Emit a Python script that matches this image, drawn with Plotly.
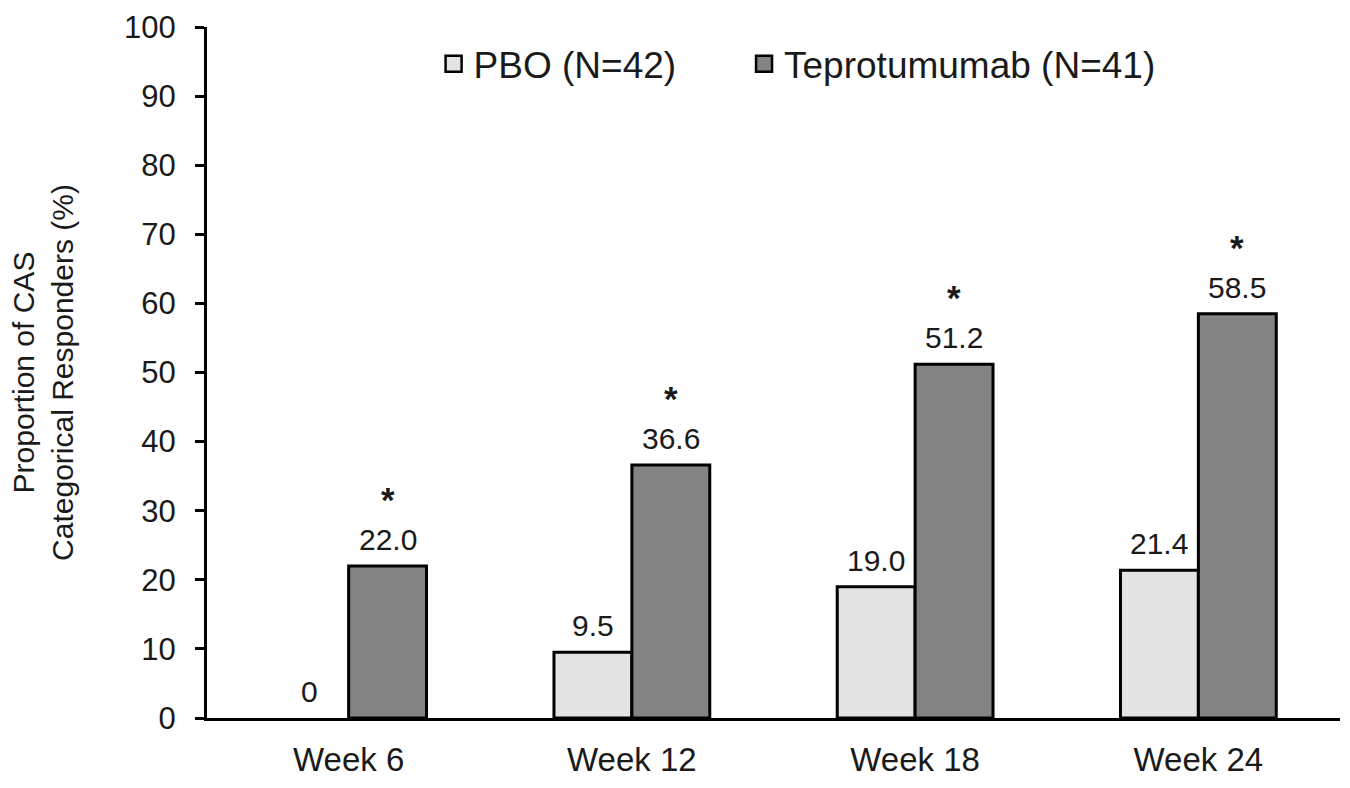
import plotly.graph_objects as go

categories = ["Week 6", "Week 12", "Week 18", "Week 24"]
pbo = [0, 9.5, 19.0, 21.4]
tep = [22.0, 36.6, 51.2, 58.5]
pbo_labels = ["0", "9.5", "19.0", "21.4"]
tep_labels = ["22.0", "36.6", "51.2", "58.5"]
significant = [True, True, True, True]
y_ticks = [0, 10, 20, 30, 40, 50, 60, 70, 80, 90, 100]

PBO_COLOR = "#e3e3e3"
TEP_COLOR = "#838383"
FONT = "Liberation Sans, Arial, sans-serif"
TXT = "#1a1a1a"

pbo_line_w = [0 if v == 0 else 3 for v in pbo]

fig = go.Figure()
fig.add_trace(go.Bar(x=categories, y=pbo, name="PBO (N=42)",
                     marker=dict(color=PBO_COLOR, line=dict(color="black", width=pbo_line_w)), showlegend=False))
fig.add_trace(go.Bar(x=categories, y=tep, name="Teprotumumab (N=41)",
                     marker=dict(color=TEP_COLOR, line=dict(color="black", width=3)), showlegend=False))

# legend entries
fig.add_trace(go.Scatter(x=[None], y=[None], mode="markers", name="PBO (N=42)", legend="legend",
                         marker=dict(symbol="square", size=18, color=PBO_COLOR, line=dict(color="black", width=2.5))))
fig.add_trace(go.Scatter(x=[None], y=[None], mode="markers", name="Teprotumumab (N=41)", legend="legend2",
                         marker=dict(symbol="square", size=18, color=TEP_COLOR, line=dict(color="black", width=2.5))))

annotations = []
for i, c in enumerate(categories):
    annotations.append(dict(x=c, y=pbo[i], xref="x", yref="y", text=pbo_labels[i], showarrow=False,
                            xshift=-39, yshift=8, yanchor="bottom", font=dict(size=30, color=TXT, family=FONT)))
    annotations.append(dict(x=c, y=tep[i], xref="x", yref="y", text=tep_labels[i], showarrow=False,
                            xshift=39, yshift=8, yanchor="bottom", font=dict(size=30, color=TXT, family=FONT)))
    if significant[i]:
        annotations.append(dict(x=c, y=tep[i], xref="x", yref="y", text="<b>*</b>", showarrow=False,
                                xshift=39, yshift=45, yanchor="bottom", font=dict(size=35, color=TXT, family=FONT)))

leg_common = dict(orientation="h", xanchor="left", yanchor="middle", bgcolor="rgba(0,0,0,0)",
                  font=dict(size=37, family=FONT, color=TXT))

fig.update_layout(
    width=1350, height=788,
    margin=dict(l=207, r=10, t=27, b=70, autoexpand=False),
    plot_bgcolor="white", paper_bgcolor="white",
    barmode="group", bargap=0.45, bargroupgap=0,
    font=dict(family=FONT, color=TXT),
    legend=dict(x=0.2, y=0.946, **leg_common),
    legend2=dict(x=0.474, y=0.946, **leg_common),
    annotations=annotations,
    xaxis=dict(showline=True, linecolor="black", linewidth=3, ticks="", showgrid=False,
               tickfont=dict(size=33, family=FONT, color=TXT), ticklabelstandoff=10),
    yaxis=dict(range=[0, 100], tickvals=y_ticks, showline=True, linecolor="black", linewidth=3,
               ticks="outside", ticklen=9, tickwidth=2.5, tickcolor="black", showgrid=False, zeroline=False,
               tickfont=dict(size=31, family=FONT, color=TXT), ticklabelstandoff=13,
               title=dict(text="Proportion of CAS<br>Categorical Responders (%)", standoff=42,
                          font=dict(size=30, family=FONT, color=TXT))),
)

fig.write_html("out.html")
